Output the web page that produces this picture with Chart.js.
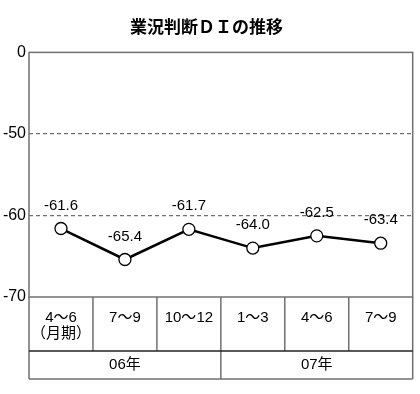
<!DOCTYPE html>
<html><head><meta charset="utf-8">
<script src="https://cdn.jsdelivr.net/npm/chart.js@4/dist/chart.umd.min.js"></script>
<style>html,body{margin:0;padding:0;background:#fff}#w{width:420px;height:394px}</style>
</head><body><div id="w"><canvas id="c"></canvas></div>
<script>
const categories = ["4～6", "7～9", "10～12", "1～3", "4～6", "7～9"];
const categorySub = ["（月期）", "", "", "", "", ""];
const groups = ["06年", "07年"];
const groupSpans = [3, 3];
const values = [-61.6, -65.4, -61.7, -64.0, -62.5, -63.4];
const yTickLabels = {"-40": "0", "-50": "-50", "-60": "-60", "-70": "-70"};

const FONT = '"Liberation Sans", "Noto Sans CJK JP", sans-serif';

const extras = {
  id: 'extras',
  afterDatasetsDraw(chart) {
    const ctx = chart.ctx, a = chart.chartArea, xs = chart.scales.x;
    const meta = chart.getDatasetMeta(0);
    ctx.save();
    ctx.fillStyle = '#000';
    ctx.font = '15px ' + FONT;
    ctx.textAlign = 'center'; ctx.textBaseline = 'middle';
    meta.data.forEach((p, i) => {
      ctx.fillText(values[i].toFixed(1), p.x, p.y - 23);
    });
    ctx.strokeStyle = '#707070'; ctx.lineWidth = 1.5;
    ctx.strokeRect(a.left, a.top, a.right - a.left, a.bottom - a.top);
    const n = categories.length;
    const colW = (a.right - a.left) / n;
    const r1 = a.bottom, r2 = a.bottom + 54, r3 = a.bottom + 82;
    ctx.strokeStyle = '#707070'; ctx.lineWidth = 1.5;
    ctx.beginPath();
    ctx.moveTo(a.left, r1); ctx.lineTo(a.left, r3);
    ctx.moveTo(a.right, r1); ctx.lineTo(a.right, r3);
    ctx.moveTo(a.left, r3); ctx.lineTo(a.right, r3);
    for (let i = 1; i < n; i++) {
      const x = a.left + colW * i;
      ctx.moveTo(x, r1); ctx.lineTo(x, r2);
    }
    let acc = 0;
    for (let g = 0; g < groups.length - 1; g++) {
      acc += groupSpans[g];
      const x = a.left + colW * acc;
      ctx.moveTo(x, r2); ctx.lineTo(x, r3);
    }
    ctx.stroke();
    ctx.strokeStyle = '#222'; ctx.lineWidth = 1.5;
    ctx.beginPath(); ctx.moveTo(a.left, r2); ctx.lineTo(a.right, r2); ctx.stroke();
    ctx.fillStyle = '#000';
    ctx.font = '15px ' + FONT;
    categories.forEach((c, i) => {
      const x = xs.getPixelForValue(i);
      ctx.fillText(c, x, r1 + 21);
      if (categorySub[i]) ctx.fillText(categorySub[i], x, r1 + 37);
    });
    acc = 0;
    groups.forEach((g, gi) => {
      const x0 = a.left + colW * acc;
      acc += groupSpans[gi];
      const x1 = a.left + colW * acc;
      ctx.fillText(g, (x0 + x1) / 2, (r2 + r3) / 2);
    });
    ctx.restore();
  }
};

new Chart(document.getElementById('c'), {
  type: 'line',
  data: {
    labels: categories,
    datasets: [{
      data: values,
      borderColor: '#000',
      borderWidth: 2.5,
      pointRadius: 6,
      pointHoverRadius: 6,
      pointBackgroundColor: '#fff',
      pointBorderColor: '#000',
      pointBorderWidth: 1.3,
      tension: 0
    }]
  },
  options: {
    responsive: true,
    maintainAspectRatio: false,
    animation: false,
    events: [],
    layout: { padding: { left: 0, right: 7, top: 0, bottom: 97 } },
    plugins: {
      legend: { display: false },
      tooltip: { enabled: false },
      title: {
        display: true,
        text: '業況判断ＤＩの推移',
        color: '#000',
        font: { family: '"Noto Sans CJK JP", sans-serif', size: 17, weight: 'bold' },
        padding: { top: 16, bottom: 16 }
      }
    },
    scales: {
      x: { display: false, offset: true },
      y: {
        min: -70, max: -40,
        afterFit(s) { s.width = 29; },
        border: { display: false, dash: [4, 3] },
        grid: {
          drawTicks: false,
          color: (c) => (c.tick && (c.tick.value === -50 || c.tick.value === -60)) ? '#707070' : 'rgba(0,0,0,0)',
          lineWidth: 1.3
        },
        ticks: {
          stepSize: 10,
          padding: 3,
          color: '#000',
          font: { family: FONT, size: 16 },
          callback: (v) => yTickLabels[String(v)] ?? ''
        }
      }
    }
  },
  plugins: [extras]
});
</script>
</body></html>
